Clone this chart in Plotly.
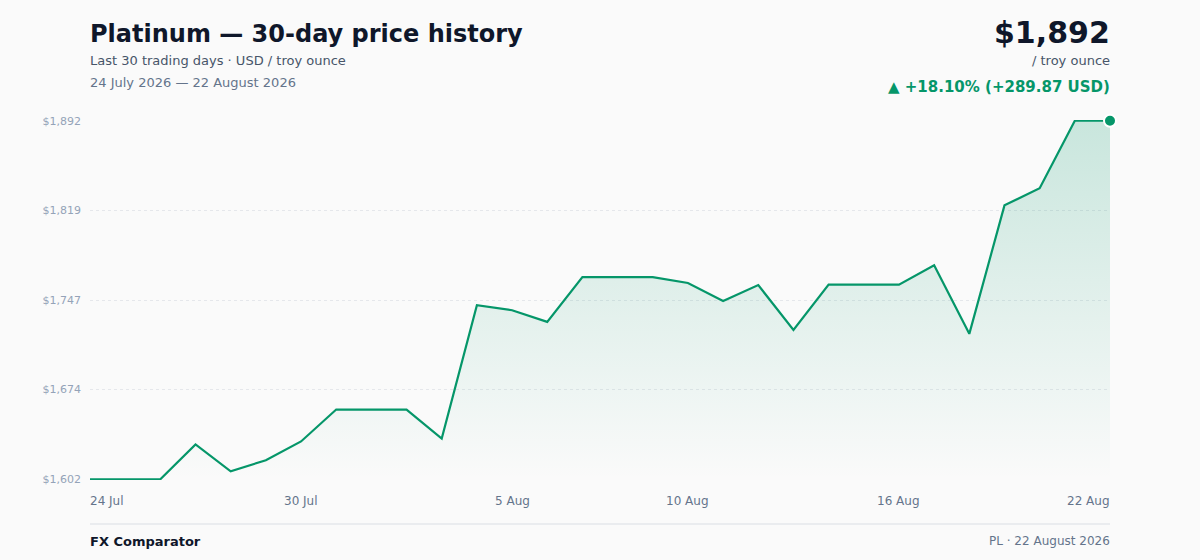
import plotly.graph_objects as go

# daily closes, USD per troy ounce
dates = ['2026-07-24', '2026-07-25', '2026-07-26', '2026-07-27', '2026-07-28', '2026-07-29',
         '2026-07-30', '2026-07-31', '2026-08-01', '2026-08-02', '2026-08-03', '2026-08-04',
         '2026-08-05', '2026-08-06', '2026-08-07', '2026-08-08', '2026-08-09', '2026-08-10',
         '2026-08-11', '2026-08-12', '2026-08-13', '2026-08-14', '2026-08-15', '2026-08-16',
         '2026-08-17', '2026-08-18', '2026-08-19', '2026-08-20', '2026-08-21', '2026-08-22']
prices = [1601.63, 1601.63, 1601.63, 1629.8, 1608.1, 1617.0,
          1632.2, 1658.0, 1658.0, 1658.0, 1634.6, 1742.3,
          1738.3, 1728.9, 1765.1, 1765.1, 1765.1, 1760.3,
          1745.8, 1758.6, 1722.4, 1759.0, 1759.0, 1759.0,
          1774.7, 1719.2, 1823.1, 1836.9, 1891.5, 1891.5]

xtick_dates = ['2026-07-24', '2026-07-30', '2026-08-05', '2026-08-10', '2026-08-16', '2026-08-22']
xtick_text = ['24 Jul', '30 Jul', '5 Aug', '10 Aug', '16 Aug', '22 Aug']

GREEN = '#059669'
FONT = 'DejaVu Sans'

lo, hi = min(prices), max(prices)
change = prices[-1] - prices[0]
pct = change / prices[0] * 100
yticks = [lo + (hi - lo) * k / 4 for k in range(5)]

fig = go.Figure()
fig.add_trace(go.Scatter(
    x=dates, y=prices, mode='lines',
    line=dict(color=GREEN, width=2.2),
    fill='tozeroy',
    fillgradient=dict(type='vertical', start=lo, stop=hi,
                      colorscale=[[0, 'rgba(5,150,105,0.0)'], [1, 'rgba(5,150,105,0.2)']]),
    hoverinfo='skip', showlegend=False,
))
fig.add_trace(go.Scatter(
    x=[dates[-1]], y=[prices[-1]], mode='markers',
    marker=dict(color=GREEN, size=12, line=dict(color='white', width=2)),
    cliponaxis=False, hoverinfo='skip', showlegend=False,
))

def py(px):
    # pixel row -> paper y (plot area spans rows 120..480)
    return (480 - px) / 360

ann = [
    dict(text='<b>Platinum — 30-day price history</b>', x=0, y=py(34), xanchor='left',
         font=dict(size=24, color='#0f172a')),
    dict(text='Last 30 trading days · USD / troy ounce', x=0, y=py(61), xanchor='left',
         font=dict(size=13, color='#475569')),
    dict(text='24 July 2026 — 22 August 2026', x=0, y=py(83), xanchor='left',
         font=dict(size=13, color='#64748b')),
    dict(text=f'<b>${prices[-1]:,.0f}</b>', x=1, y=py(32), xanchor='right',
         font=dict(size=30, color='#0f172a')),
    dict(text='/ troy ounce', x=1, y=py(61), xanchor='right',
         font=dict(size=13, color='#475569')),
    dict(text=f'<b>▲ +{pct:.2f}% (+{change:.2f} USD)</b>', x=1, y=py(87), xanchor='right',
         font=dict(size=15, color=GREEN)),
    dict(text='<b>FX Comparator</b>', x=0, y=py(541), xanchor='left',
         font=dict(size=13, color='#0f172a')),
    dict(text='PL · 22 August 2026', x=1, y=py(541), xanchor='right',
         font=dict(size=12, color='#64748b')),
]
for a in ann:
    a.update(xref='paper', yref='paper', yanchor='middle', showarrow=False,
             xshift=-2 if a['xanchor'] == 'left' else 2)

for i, (d, t) in enumerate(zip(xtick_dates, xtick_text)):
    anchor = 'left' if i == 0 else ('right' if i == len(xtick_dates) - 1 else 'center')
    shift = {'left': -2, 'right': 2, 'center': 0}[anchor]
    ann.append(dict(text=t, x=d, xref='x', y=py(501), yref='paper', yanchor='middle',
                    xanchor=anchor, xshift=shift, showarrow=False,
                    font=dict(size=12, color='#64748b')))

fig.update_layout(
    width=1200, height=560,
    margin=dict(l=90, r=90, t=120, b=80),
    paper_bgcolor='#fafafa', plot_bgcolor='#fafafa',
    font=dict(family=FONT),
    annotations=ann,
    shapes=[dict(type='line', xref='paper', yref='paper', x0=0, x1=1, y0=py(524), y1=py(524),
                 line=dict(color='#e5e7eb', width=1.5))],
)
fig.update_xaxes(range=[dates[0], dates[-1]], showgrid=False, showticklabels=False,
                 zeroline=False, showline=False)
fig.update_yaxes(range=[lo - 0.6, hi + 0.6], tickvals=yticks, tickformat='$,.0f',
                 tickfont=dict(size=11, color='#94a3b8'), ticklabelstandoff=8,
                 showgrid=True, gridcolor='#e5e7eb', griddash='dot', gridwidth=1,
                 zeroline=False, showline=False)

fig.write_html('out.html', config={'displayModeBar': False},
               post_script="document.body.style.margin='0';document.body.style.background='#fafafa';")
